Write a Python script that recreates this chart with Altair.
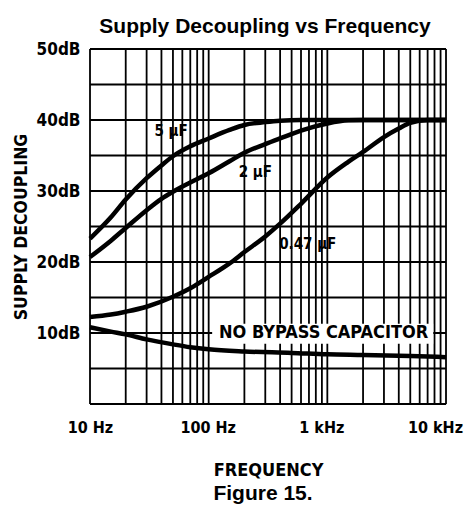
import altair as alt
import pandas as pd

# ---- data ----
freq_5uF = [10, 15, 20, 30, 40, 50, 70, 100, 150, 200, 300, 400, 600, 10000]
db_5uF = [23.3, 26.3, 28.8, 31.8, 33.6, 34.9, 36.3, 37.4, 38.6, 39.3, 39.7, 39.9, 40.0, 40.0]

freq_2uF = [10, 15, 20, 30, 40, 50, 70, 100, 150, 200, 300, 400, 600, 1000, 1500, 2000, 10000]
db_2uF = [20.7, 23.0, 24.8, 27.3, 28.9, 29.9, 31.2, 32.5, 34.2, 35.4, 36.6, 37.4, 38.5, 39.5, 39.95, 40.0, 40.0]

freq_047uF = [10, 15, 20, 30, 50, 70, 100, 150, 200, 300, 400, 600, 1000, 1500, 2000, 3000, 4000, 5000, 7000, 10000]
db_047uF = [12.25, 12.6, 13.0, 13.7, 15.1, 16.3, 17.9, 19.8, 21.4, 23.6, 25.4, 28.2, 31.9, 34.1, 35.5, 37.6, 38.8, 39.6, 40.0, 40.0]

freq_nobypass = [10, 15, 20, 30, 50, 70, 100, 200, 500, 1000, 2000, 5000, 10000]
db_nobypass = [10.8, 10.2, 9.8, 9.1, 8.4, 8.0, 7.7, 7.4, 7.2, 7.0, 6.9, 6.75, 6.6]

series_names = ["5 µF", "2 µF", "0.47 µF", "NO BYPASS CAPACITOR"]

label_text = ["5 µF", "2 µF", "0.47 µF", "NO BYPASS CAPACITOR"]
label_freq = [48.3, 247, 684, 931]
label_db = [38.4, 32.7, 22.6, 10.0]
label_size = [15, 15, 15, 18]

# white box behind the "NO BYPASS CAPACITOR" label
box_freq = [107]
box_freq2 = [7800]
box_db = [8.5]
box_db2 = [11.3]

grid_freqs = [m * 10 ** e for e in range(1, 4) for m in range(1, 10)] + [10000]
decade_ticks = [10, 100, 1000, 10000]
decade_labels = ["10 Hz", "100 Hz", "1 kHz", "10 kHz"]
decade_label_shift = [0, -1, -6, -11]
db_grid = list(range(0, 55, 5))
db_labels = [10, 20, 30, 40, 50]

# ---- build tables ----
rows = []
for name, fs, ds in zip(series_names,
                        [freq_5uF, freq_2uF, freq_047uF, freq_nobypass],
                        [db_5uF, db_2uF, db_047uF, db_nobypass]):
    for f, d in zip(fs, ds):
        rows.append({"series": name, "freq": f, "db": d})
curves = pd.DataFrame(rows)
labels = pd.DataFrame({"text": label_text, "freq": label_freq, "db": label_db, "size": label_size})
box = pd.DataFrame({"f1": box_freq, "f2": box_freq2, "d1": box_db, "d2": box_db2})
vgrid = pd.DataFrame({"freq": grid_freqs})
hgrid = pd.DataFrame({"db": db_grid})

x_label_expr = " : ".join(
    [f"datum.value == {v} ? '{t}'" for v, t in zip(decade_ticks, decade_labels)]
) + " : ''"
y_label_expr = " : ".join(
    [f"datum.value == {v} ? '{v}dB'" for v in db_labels]
) + " : ''"
x_offset = {"condition": [{"test": f"datum.value == {v}", "value": s}
                          for v, s in zip(decade_ticks, decade_label_shift) if s != 0],
            "value": 0}

COND = "DejaVu Sans Condensed, Liberation Sans Narrow, DejaVu Sans"
SANS = "Liberation Sans, Arial, Helvetica, sans-serif"
W, H = 356, 355

xscale = alt.Scale(type="log", domain=[10, 10000], nice=False)
yscale = alt.Scale(domain=[0, 50], nice=False)

x_axis = alt.Axis(values=decade_ticks, labelExpr=x_label_expr, title="FREQUENCY",
                  grid=False, ticks=False, domain=False, labelOverlap=False,
                  labelFlush=False, labelBound=False, labelPadding=15,
                  labelOffset=x_offset, labelFont=COND,
                  labelFontSize=16, labelFontWeight="bold", labelColor="black",
                  titleFont=COND, titleFontSize=18, titleFontWeight="bold",
                  titleColor="black", titlePadding=26)
y_axis = alt.Axis(values=db_labels, labelExpr=y_label_expr,
                  title="SUPPLY DECOUPLING", grid=False, ticks=False, domain=False,
                  labelOverlap=False, labelPadding=10, labelFont=COND,
                  labelFontSize=17, labelFontWeight="bold", labelColor="black",
                  titleFont=COND, titleFontSize=17.5, titleFontWeight="bold",
                  titleColor="black", titlePadding=6)

vlines = alt.Chart(vgrid).mark_rule(color="black", strokeWidth=1.8).encode(
    x=alt.X("freq:Q", scale=xscale, axis=x_axis),
    y=alt.value(0), y2=alt.value(H),
)
hlines = alt.Chart(hgrid).mark_rule(color="black", strokeWidth=1.8).encode(
    y=alt.Y("db:Q", scale=yscale, axis=y_axis),
    x=alt.value(0), x2=alt.value(W),
)

boxes = alt.Chart(box).mark_rect(color="white").encode(
    x=alt.X("f1:Q", scale=xscale), x2="f2:Q",
    y=alt.Y("d1:Q", scale=yscale), y2="d2:Q"
)

lines = alt.Chart(curves).mark_line(color="black", strokeWidth=4.5, interpolate="monotone").encode(
    x=alt.X("freq:Q", scale=xscale), y=alt.Y("db:Q", scale=yscale), detail="series:N"
)

texts = alt.Chart(labels).mark_text(font=COND, fontWeight="bold", color="black").encode(
    x=alt.X("freq:Q", scale=xscale),
    y=alt.Y("db:Q", scale=yscale),
    text="text:N",
    size=alt.Size("size:Q", scale=None, legend=None),
)

fig = alt.Chart(pd.DataFrame({"t": ["Figure 15."]})).mark_text(
    font=SANS, fontWeight="bold", fontSize=21, color="black",
    baseline="alphabetic"
).encode(x=alt.value(173), y=alt.value(451), text="t:N")

chart = alt.layer(vlines, hlines, boxes, lines, texts, fig).properties(
    width=W, height=H,
    title=alt.TitleParams("Supply Decoupling vs Frequency", font=SANS,
                          fontSize=21, fontWeight="bold", color="black", offset=3, dx=-3),
    padding={"left": 82, "top": 41, "right": 18, "bottom": 102},
    autosize=alt.AutoSizeParams(type="none"),
).configure_view(stroke="black", strokeWidth=3).configure(background="white")

chart.save("out.html", embed_options={"renderer": "svg", "actions": False})
